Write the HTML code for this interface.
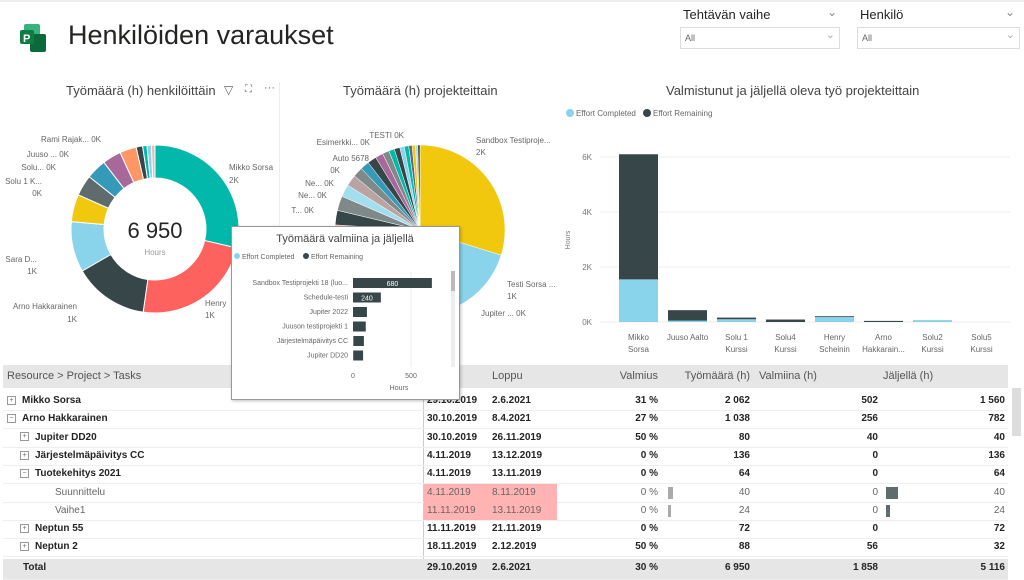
<!DOCTYPE html>
<html><head><meta charset="utf-8">
<style>
body{margin:0;width:1024px;height:578px;overflow:hidden;background:#fff;font-family:"Liberation Sans",sans-serif;position:relative}
.abs{position:absolute}
.t{font-size:12px;color:#252423;white-space:nowrap}
.tbl{position:absolute;left:3px;top:365px;width:1005px;font-size:10px}
.row{position:absolute;left:0;width:1005px;height:18px;line-height:18px;border-bottom:1px solid #eee;font-weight:bold;color:#252423}
.c{position:absolute;white-space:nowrap}
.r{text-align:right}
.box{display:inline-block;width:7px;height:7px;border:1px solid #999;margin-right:6px;vertical-align:middle;font-size:7px;line-height:7px;text-align:center;color:#666;font-weight:normal}
</style></head><body>
<div class="abs" style="left:0;top:0;width:1024px;height:2px;background:#eee"></div>
<svg class="abs" style="left:18px;top:22px" width="36" height="32"><rect x="6" y="2" width="16" height="14" rx="2" fill="#36b37e"/><rect x="12" y="12" width="16" height="18" rx="2" fill="#0b6a3c"/><rect x="2" y="8" width="14" height="14" rx="2" fill="#107c41"/><text x="5" y="20" fill="#fff" font-size="11" font-family="Liberation Sans" font-weight="bold">P</text></svg>
<div class="abs" style="left:68px;top:20px;font-size:27px;color:#252423">Henkilöiden varaukset</div>

<div class="abs t" style="left:683px;top:7px;font-size:13px">Tehtävän vaihe</div>
<div class="abs" style="left:827px;top:5px;font-size:12px;color:#888">⌄</div>
<div class="abs" style="left:680px;top:27px;width:158px;height:20px;border:1px solid #ddd;font-size:9px;line-height:20px;color:#666;text-indent:4px">All<span style="position:absolute;right:4px;top:-3px;font-size:11px;color:#aaa">⌄</span></div>
<div class="abs t" style="left:860px;top:7px;font-size:13px">Henkilö</div>
<div class="abs" style="left:1005px;top:5px;font-size:12px;color:#888">⌄</div>
<div class="abs" style="left:857px;top:27px;width:161px;height:20px;border:1px solid #ddd;font-size:9px;line-height:20px;color:#666;text-indent:4px">All<span style="position:absolute;right:4px;top:-3px;font-size:11px;color:#aaa">⌄</span></div>

<div class="abs" style="left:0;top:82px;width:279px;height:278px;border-right:1px solid #eee"></div>
<div class="abs t" style="left:66px;top:83px;font-size:13px;color:#444">Työmäärä (h) henkilöittäin</div>
<div class="abs" style="left:224px;top:83px;font-size:12px;color:#666">▽</div>
<div class="abs" style="left:245px;top:84px;font-size:10px;color:#666">⛶</div>
<div class="abs" style="left:264px;top:82px;font-size:11px;color:#666">···</div>
<div class="abs t" style="left:343px;top:83px;font-size:13px;color:#444">Työmäärä (h) projekteittain</div>
<div class="abs t" style="left:666px;top:83px;font-size:13px;color:#444">Valmistunut ja jäljellä oleva työ projekteittain</div>

<svg class="abs" id="charts" style="left:0;top:0" width="1024" height="365" font-family="Liberation Sans"></svg>

<div class="tbl">
<div class="abs" style="left:0;top:0;width:1005px;height:23px;background:#e6e6e6;font-size:11px;color:#555;line-height:23px">
<span class="c" style="left:4px">Resource &gt; Project &gt; Tasks</span>
<span class="c" style="left:489px">Loppu</span>
<span class="c r" style="left:600px;width:55px">Valmius</span>
<span class="c r" style="left:672px;width:75px">Työmäärä (h)</span>
<span class="c" style="left:756px">Valmiina (h)</span>
<span class="c" style="left:880px">Jäljellä (h)</span>
</div>
<div class="abs" style="left:420px;top:23px;width:1px;height:187px;background:#ccc"></div>
<div id="rows"></div>
</div>
<div class="abs" style="left:1012px;top:388px;width:9px;height:48px;background:#ddd"></div>

<div class="abs" style="left:231px;top:226px;width:227px;height:172px;background:#fff;border:1px solid #999;box-shadow:1px 1px 3px rgba(0,0,0,.25)">
<svg id="tip" width="227" height="172" font-family="Liberation Sans"></svg>
</div>

<script>
const NS='http://www.w3.org/2000/svg';
function mk(p,tag,a,txt){const e=document.createElementNS(NS,tag);for(const k in a)e.setAttribute(k,a[k]);if(txt!==undefined)e.textContent=txt;p.appendChild(e);return e;}
const svg=document.getElementById('charts');

// Donut data
const donutNames=['Mikko Sorsa','Henry','Arno Hakkarainen','Sara D...','Solu 1 K...','Solu...','Juuso ...','Rami Rajak...','other-1','other-2','other-3','other-4','other-5'];
const donutValues=[2062,1700,1038,700,380,290,280,260,230,90,60,60,50];
const donutColors=['#01b8aa','#fd625e','#374649','#8ad4eb','#f2c80f','#5f6b6d','#3599b8','#a66999','#fe9666','#374649','#01b8aa','#8ad4eb','#dfbfbf'];
(function(){
 const cx=155,cy=229,R=84,r=51;const tot=donutValues.reduce((a,b)=>a+b,0);let a0=0;
 donutValues.forEach((v,i)=>{const a1=a0+v/tot*2*Math.PI;
  const p=(a,rr)=>[cx+rr*Math.sin(a),cy-rr*Math.cos(a)];const L=(a1-a0)>Math.PI?1:0;
  const [x0,y0]=p(a0,R),[x1,y1]=p(a1,R),[x2,y2]=p(a1,r),[x3,y3]=p(a0,r);
  const e=mk(svg,'path',{d:`M${x0},${y0}A${R},${R} 0 ${L} 1 ${x1},${y1}L${x2},${y2}A${r},${r} 0 ${L} 0 ${x3},${y3}Z`,fill:donutColors[i],stroke:'#fff','stroke-width':1});
  
  
  a0=a1;});
 const c=mk(svg,'text',{x:cx,y:238,'text-anchor':'middle','font-size':22,fill:'#252423'},'6 950');
 
 
 mk(svg,'text',{x:cx,y:255,'text-anchor':'middle','font-size':8,fill:'#999'},'Hours');
})();
const donutLabels=[[229,170,'start','Mikko Sorsa'],[229,183,'start','2K'],[205,306,'start','Henry'],[205,318,'start','1K'],[77,309,'end','Arno Hakkarainen'],[77,322,'end','1K'],[37,262,'end','Sara D...'],[37,274,'end','1K'],[42,184,'end','Solu 1 K...'],[42,196,'end','0K'],[56,170,'end','Solu... 0K'],[69,157,'end','Juuso ... 0K'],[101,142,'end','Rami Rajak... 0K']];
donutLabels.forEach(l=>{const e=mk(svg,'text',{x:l[0],y:l[1],'text-anchor':l[2],'font-size':8,fill:'#666'},l[3]);});

// Pie data
const pieValues=[1400,600,280,60,40,40,40,40,30,400,180,150,150,160,130,130,110,100,90,80,80,70,60,50,50,40,40,30,30,20,20];
const pieColors=['#f2c80f','#8ad4eb','#01b8aa','#374649','#5f6b6d','#fd625e','#a66999','#3599b8','#f5d33f','#8ad4eb','#f2c80f','#fe9666','#5f6b6d','#fea19e','#374649','#7f898a','#a4ddee','#b9a3a3','#7f898a','#3599b8','#374649','#a66999','#7f898a','#01b8aa','#374649','#8ad4eb','#01b8aa','#5f6b6d','#f2c80f','#a4ddee','#374649'];
(function(){
 const cx=420,cy=230,R=85;const tot=pieValues.reduce((a,b)=>a+b,0);let a0=0;
 pieValues.forEach((v,i)=>{const a1=a0+v/tot*2*Math.PI;const L=(a1-a0)>Math.PI?1:0;
  const x0=cx+R*Math.sin(a0),y0=cy-R*Math.cos(a0),x1=cx+R*Math.sin(a1),y1=cy-R*Math.cos(a1);
  const e=mk(svg,'path',{d:`M${cx},${cy}L${x0},${y0}A${R},${R} 0 ${L} 1 ${x1},${y1}Z`,fill:pieColors[i],stroke:'#fff','stroke-width':0.5});
  
  
  a0=a1;});
})();
const pieLabels=[[476,143,'start','Sandbox Testiproje...'],[476,155,'start','2K'],[507,287,'start','Testi Sorsa ...'],[507,299,'start','1K'],[481,316,'start','Jupiter ... 0K'],[404,138,'end','TESTI 0K'],[370,145,'end','Esimerkki... 0K'],[369,161,'end','Auto 5678'],[340,173,'end','0K'],[334,186,'end','Ne... 0K'],[327,198,'end','Ne... 0K'],[314,213,'end','T... 0K']];
pieLabels.forEach(l=>{const e=mk(svg,'text',{x:l[0],y:l[1],'text-anchor':l[2],'font-size':8,fill:'#666'},l[3]);});

// Stacked bar data
const barCats=[['Mikko','Sorsa'],['Juuso Aalto',''],['Solu 1','Kurssi'],['Solu4','Kurssi'],['Henry','Scheinin'],['Arno','Hakkarain...'],['Solu2','Kurssi'],['Solu5','Kurssi']];
const barCompleted=[1550,50,100,0,180,0,70,0];
const barRemaining=[4550,380,60,90,30,40,0,0];
const barTicks=[0,2000,4000,6000];
const barTickLabels=['0K','2K','4K','6K'];
(function(){
 const x0=617,w=49,y0=322,yScale=v=>y0-v*(165/6000);
 barTicks.forEach((t,i)=>{const y=yScale(t);mk(svg,'line',{x1:600,x2:1010,y1:y,y2:y,stroke:'#eee'});mk(svg,'text',{x:592,y:y+3,'text-anchor':'end','font-size':8,fill:'#777'},barTickLabels[i]);});
 mk(svg,'text',{x:570,y:240,'font-size':7,fill:'#777',transform:'rotate(-90 570 240)','text-anchor':'middle'},'Hours');
 barCats.forEach((c,i)=>{const x=x0+i*w+2;
  const b1=mk(svg,'rect',{x:x,width:39,y:yScale(barCompleted[i]),height:y0-yScale(barCompleted[i]),fill:'#8ad4eb'});
  
  
  const top=barCompleted[i]+barRemaining[i];
  const b2=mk(svg,'rect',{x:x,width:39,y:yScale(top),height:yScale(barCompleted[i])-yScale(top),fill:'#374649'});
  
  
  mk(svg,'text',{x:x+19.5,y:340,'text-anchor':'middle','font-size':8,fill:'#666'},c[0]);
  mk(svg,'text',{x:x+19.5,y:352,'text-anchor':'middle','font-size':8,fill:'#666'},c[1]);
 });
 mk(svg,'circle',{cx:570,cy:113,r:4,fill:'#8ad4eb'});
 mk(svg,'text',{x:576,y:116,'font-size':8,fill:'#666'},'Effort Completed');
 mk(svg,'circle',{cx:647,cy:113,r:4,fill:'#374649'});
 mk(svg,'text',{x:653,y:116,'font-size':8,fill:'#666'},'Effort Remaining');
})();

// Tooltip chart data
const tipCats=['Sandbox Testiprojekti 18 (luo...','Schedule-testi','Jupiter 2022','Juuson testiprojekti 1','Järjestelmäpäivitys CC','Jupiter DD20'];
const tipCompleted=[0,0,0,0,4,2];
const tipRemaining=[680,240,120,110,90,85];
const tipLabels=['680','240','','','',''];
(function(){
 const t=document.getElementById('tip');const sx=v=>121+v*(58/500);
 mk(t,'text',{x:113,y:15,'text-anchor':'middle','font-size':11,fill:'#444'},'Työmäärä valmiina ja jäljellä');
 mk(t,'circle',{cx:5,cy:29,r:3,fill:'#8ad4eb'});mk(t,'text',{x:10,y:32,'font-size':7,fill:'#666'},'Effort Completed');
 mk(t,'circle',{cx:74,cy:29,r:3,fill:'#374649'});mk(t,'text',{x:79,y:32,'font-size':7,fill:'#666'},'Effort Remaining');
 mk(t,'line',{x1:179,x2:179,y1:45,y2:140,stroke:'#eee'});
 tipCats.forEach((c,i)=>{const y=51+i*14.5;
  mk(t,'text',{x:116,y:y+7,'text-anchor':'end','font-size':7,fill:'#666'},c);
  const a=mk(t,'rect',{x:sx(0),y:y,width:sx(tipCompleted[i])-sx(0),height:10,fill:'#8ad4eb'});
  
  
  const b=mk(t,'rect',{x:sx(tipCompleted[i]),y:y,width:sx(tipRemaining[i])-sx(0),height:10,fill:'#374649'});
  
  
  if(tipLabels[i])mk(t,'text',{x:(sx(0)+sx(tipCompleted[i]+tipRemaining[i]))/2,y:y+8,'text-anchor':'middle','font-size':7,fill:'#fff'},tipLabels[i]);
 });
 mk(t,'text',{x:121,y:151,'text-anchor':'middle','font-size':7,fill:'#666'},'0');
 mk(t,'text',{x:179,y:151,'text-anchor':'middle','font-size':7,fill:'#666'},'500');
 mk(t,'text',{x:167,y:163,'text-anchor':'middle','font-size':7,fill:'#666'},'Hours');
 mk(t,'rect',{x:219,y:44,width:4,height:96,fill:'#eee'});
 mk(t,'rect',{x:219,y:44,width:4,height:20,fill:'#bbb'});
})();

// Table rows
const rows=[
 [0,'+','Mikko Sorsa','29.10.2019','2.6.2021','31 %','2 062','502','1 560',0],
 [0,'−','Arno Hakkarainen','30.10.2019','8.4.2021','27 %','1 038','256','782',0],
 [1,'+','Jupiter DD20','30.10.2019','26.11.2019','50 %','80','40','40',0],
 [1,'+','Järjestelmäpäivitys CC','4.11.2019','13.12.2019','0 %','136','0','136',0],
 [1,'−','Tuotekehitys 2021','4.11.2019','13.11.2019','0 %','64','0','64',0],
 [2,'','Suunnittelu','4.11.2019','8.11.2019','0 %','40','0','40',14],
 [2,'','Vaihe1','11.11.2019','13.11.2019','0 %','24','0','24',9],
 [1,'+','Neptun 55','11.11.2019','21.11.2019','0 %','72','0','72',0],
 [1,'+','Neptun 2','18.11.2019','2.12.2019','50 %','88','56','32',0]];
const rc=document.getElementById('rows');
rows.forEach((r,i)=>{const d=document.createElement('div');d.className='row';d.style.top=(27+i*18.3)+'px';
 
 
 const task=r[0]===2;if(task)d.style.fontWeight='normal',d.style.color='#666';
 const ind=r[0]*13+4;
 let h=`<span class="c" style="left:${ind}px">${r[1]?'<span class="box">'+r[1]+'</span>':'<span style="display:inline-block;width:22px"></span>'}${r[2]}</span>`;
 if(task)h+=`<div class="c" style="left:421px;top:0;width:133px;height:18px;background:#ffb3b3"></div>`;
 h+=`<span class="c" style="left:424px">${r[3]}</span><span class="c" style="left:489px">${r[4]}</span>`;
 h+=`<span class="c r" style="left:600px;width:55px">${r[5]}</span><span class="c r" style="left:672px;width:75px">${r[6]}</span>`;
 h+=`<span class="c r" style="left:800px;width:75px">${r[7]}</span><span class="c r" style="left:920px;width:82px">${r[8]}</span>`;
 if(task){h+=`<div class="c" style="left:665px;top:3px;width:5px;height:12px;background:#aaa;${r[9]<10?'width:3px':''}"></div><div class="c" style="left:883px;top:3px;width:${r[9]<10?4:12}px;height:12px;background:#5f6b6d"></div>`;}
 d.innerHTML=h;rc.appendChild(d);});
const tot=document.createElement('div');tot.className='row';tot.style.top=(27+9*18.3+2)+'px';tot.style.background='#e6e6e6';tot.style.height='20px';


tot.innerHTML='<span class="c" style="left:20px">Total</span><span class="c" style="left:424px">29.10.2019</span><span class="c" style="left:489px">2.6.2021</span><span class="c r" style="left:600px;width:55px">30 %</span><span class="c r" style="left:672px;width:75px">6 950</span><span class="c r" style="left:800px;width:75px">1 858</span><span class="c r" style="left:920px;width:82px">5 116</span>';
rc.appendChild(tot);
</script>
</body></html>
